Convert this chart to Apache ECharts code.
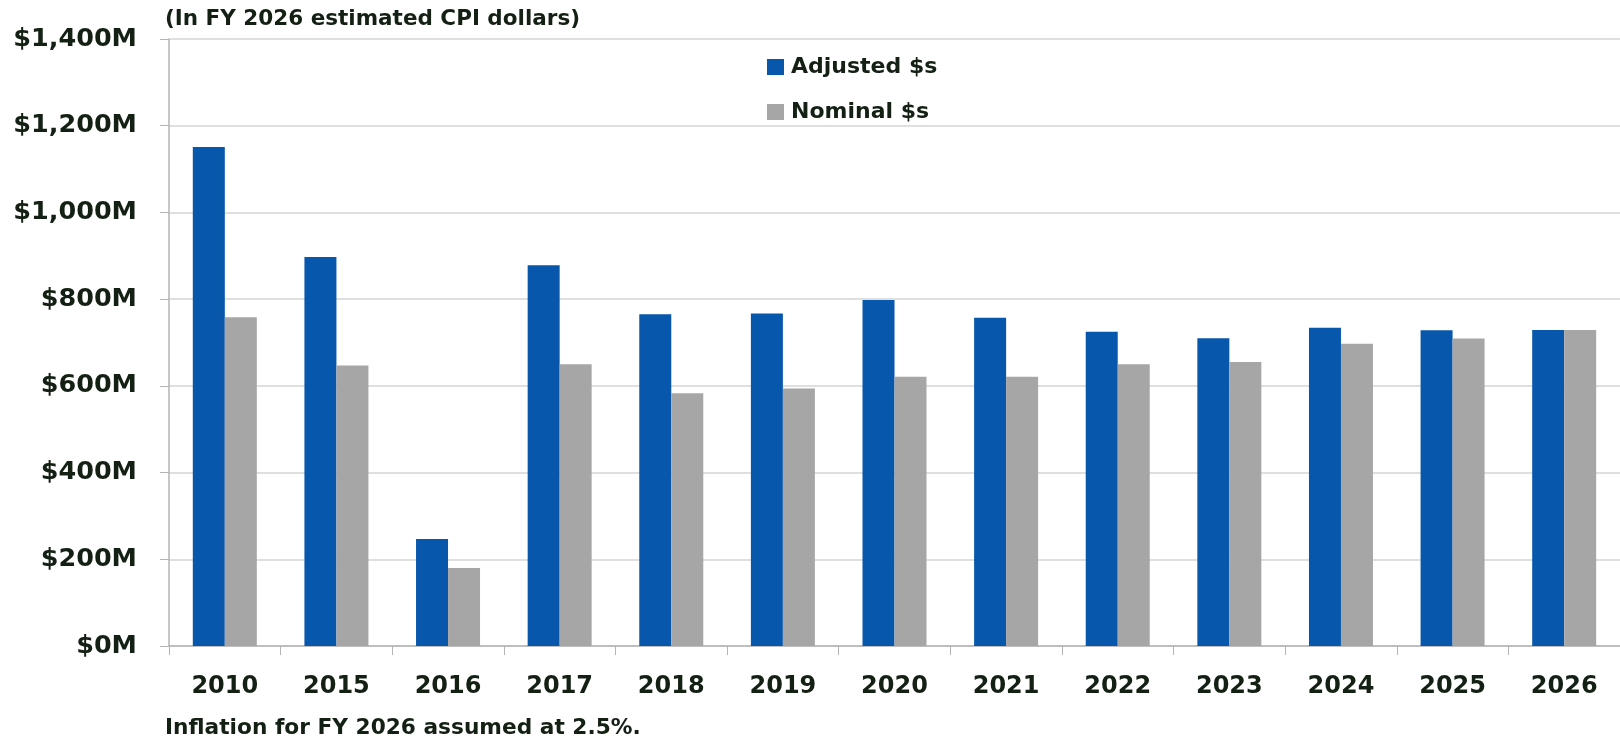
<!DOCTYPE html>
<html>
<head>
<meta charset="utf-8">
<script src="https://cdn.jsdelivr.net/npm/echarts@6/dist/echarts.min.js"></script>
<style>
html,body{margin:0;padding:0;background:#fff;}
#chart{width:1620px;height:744px;}
</style>
</head>
<body>
<div id="chart"></div>
<script>
const categories = ['2010','2015','2016','2017','2018','2019','2020','2021','2022','2023','2024','2025','2026'];
const adjusted = [1151, 897, 247, 878, 765, 767, 798, 757, 725, 710, 734, 728, 729];
const nominal  = [758, 647, 180, 650, 583, 594, 621, 621, 650, 655, 697, 709, 729];
const yTicks = [0, 200, 400, 600, 800, 1000, 1200, 1400];
const titleText = '(In FY 2026 estimated CPI dollars)';
const footText = 'Inflation for FY 2026 assumed at 2.5%.';

const FONT = '"DejaVu Sans"';
const TXT = '#142014';

const chart = echarts.init(document.getElementById('chart'));
chart.setOption({
  animation: false,
  backgroundColor: '#ffffff',
  grid: { left: 169, right: -4, top: 39, bottom: 98, containLabel: false },
  legend: {
    orient: 'vertical',
    left: 762,
    top: 50,
    itemWidth: 17,
    itemHeight: 16,
    itemGap: 21,
    icon: 'rect',
    textStyle: { fontFamily: FONT, fontWeight: 'bold', fontSize: 22, color: TXT, lineHeight: 24, padding: [0,0,0,2] },
    data: ['Adjusted $s', 'Nominal $s']
  },
  xAxis: {
    type: 'category',
    data: categories,
    axisLine: { show: true, lineStyle: { color: '#b4b4b4', width: 1.5 } },
    axisTick: { show: true, length: 9, lineStyle: { color: '#b4b4b4' } },
    axisLabel: { fontFamily: FONT, fontWeight: 'bold', fontSize: 24, color: TXT, margin: 29 }
  },
  yAxis: {
    type: 'value',
    min: yTicks[0],
    max: yTicks[yTicks.length - 1],
    interval: 200,
    axisLine: { show: true, lineStyle: { color: '#b4b4b4', width: 1.5 } },
    axisTick: { show: true, length: 9, lineStyle: { color: '#b4b4b4' } },
    splitLine: { show: true, lineStyle: { color: '#d4d4d4', width: 1.5 } },
    axisLabel: {
      fontFamily: FONT, fontWeight: 'bold', fontSize: 25.5, color: TXT, margin: 32,
      formatter: v => '$' + v.toLocaleString('en-US') + 'M'
    }
  },
  series: [
    { name: 'Adjusted $s', type: 'bar', data: adjusted, barWidth: 32, barGap: '0%',
      itemStyle: { color: '#0757ad' } },
    { name: 'Nominal $s', type: 'bar', data: nominal, barWidth: 32, barGap: '0%',
      itemStyle: { color: '#a6a6a6' } }
  ],
  graphic: [
    { type: 'text', left: 165, top: 8,
      style: { text: titleText, fontFamily: FONT, fontWeight: 'bold', fontSize: 21.5, fill: TXT } },
    { type: 'text', left: 165, top: 717,
      style: { text: footText, fontFamily: FONT, fontWeight: 'bold', fontSize: 21.7, fill: TXT } }
  ]
});
</script>
</body>
</html>
